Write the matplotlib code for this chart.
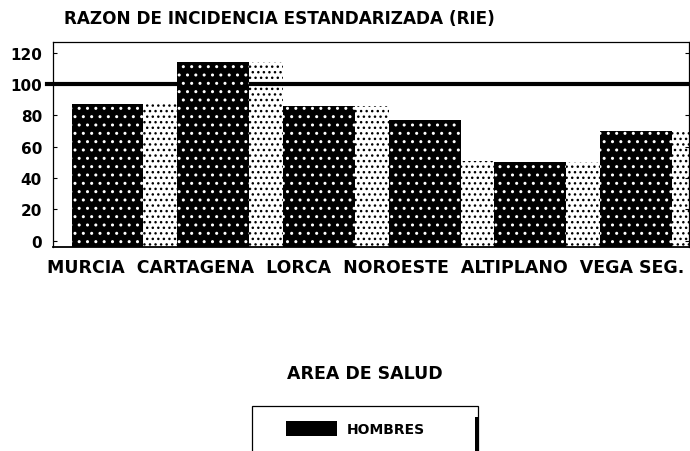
import matplotlib
matplotlib.use("Agg")
import matplotlib.pyplot as plt
from matplotlib.patches import Rectangle
import numpy as np

areas = ["MURCIA", "CARTAGENA", "LORCA", "NOROESTE", "ALTIPLANO", "VEGA SEG."]
hombres = [87, 114, 86, 77, 50, 70]
serie_clara = [87, 114, 86, 51, 50, 70]
yticks = [0, 20, 40, 60, 80, 100, 120]
referencia = 100

plt.rcParams['font.family'] = 'DejaVu Sans'
plt.rcParams['font.weight'] = 'bold'
plt.rcParams['hatch.linewidth'] = 1.0

fig = plt.figure(figsize=(6.9, 4.52), dpi=100)
ax = fig.add_axes([53 / 690, 1 - 248 / 452, 636 / 690, 205 / 452])

x = np.arange(len(areas))
base = -4

# barras claras (punteado) en los huecos
ax.bar(x + 0.5, np.array(serie_clara) - base, bottom=base, width=0.32,
       color='white', edgecolor='black', hatch='...', linewidth=0, zorder=1)
# linea de referencia 100
ax.axhline(referencia, xmin=-0.0095, xmax=1, color='black', lw=3.0,
           clip_on=False, zorder=2)
# barras oscuras
ax.bar(x, np.array(hombres) - base, bottom=base, width=0.68,
       color='black', edgecolor='white', hatch='..', linewidth=0, zorder=3)

ax.set_xlim(-0.516, 5.50)
ax.set_ylim(base, 126.7)
ax.set_yticks(yticks)
ax.set_yticklabels([str(v) for v in yticks], fontsize=11, fontweight='bold')
ax.set_xticks([])
ax.tick_params(axis='y', direction='in', length=3, pad=8, right=True)
for s in ax.spines.values():
    s.set_linewidth(0.9)
ax.spines['bottom'].set_linewidth(1.3)

fig.text(279 / 690, 1 - 19 / 452, "RAZON DE INCIDENCIA ESTANDARIZADA (RIE)",
         ha='center', va='center', fontsize=12.2, fontweight='bold')
fig.text(366 / 690, 1 - 268 / 452, "  ".join(areas),
         ha='center', va='center', fontsize=12.5, fontweight='bold')
fig.text(365 / 690, 1 - 374 / 452, "AREA DE SALUD",
         ha='center', va='center', fontsize=12.5, fontweight='bold')

# leyenda (cortada por el borde inferior)
fig.patches.append(Rectangle((252 / 690, -0.05), 226 / 690, (0.05 + 1 - 407 / 452),
                             transform=fig.transFigure, facecolor='white',
                             edgecolor='black', lw=0.9))
fig.patches.append(Rectangle((475 / 690, -0.05), 4 / 690, (0.05 + 1 - 418 / 452),
                             transform=fig.transFigure, facecolor='black',
                             edgecolor='none'))
fig.patches.append(Rectangle((286 / 690, 1 - 437 / 452), 51 / 690, 15 / 452,
                             transform=fig.transFigure, facecolor='black',
                             edgecolor='none'))
fig.text(347 / 690, 1 - 430 / 452, "HOMBRES", ha='left', va='center',
         fontsize=10, fontweight='bold')

fig.savefig("out.png", dpi=100)
